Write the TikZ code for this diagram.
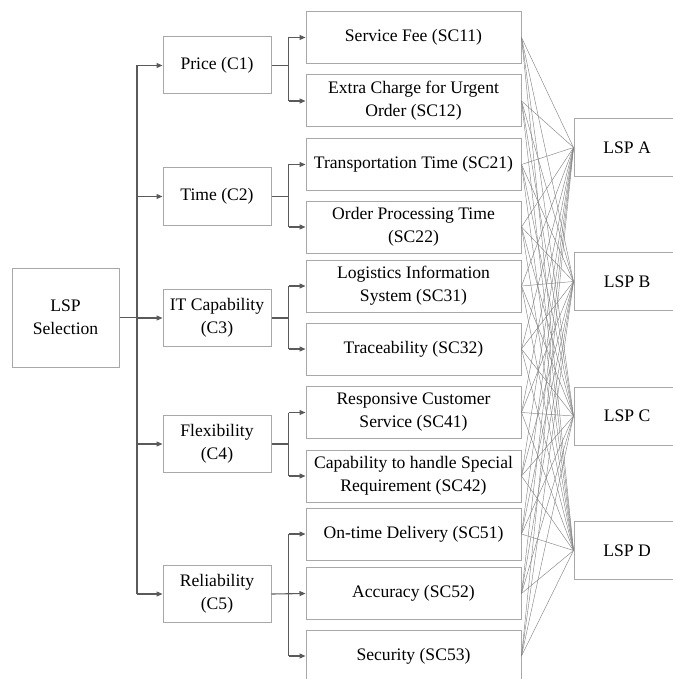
\documentclass[tikz,border=0pt]{standalone}
\usepackage{fontspec}
\setmainfont{LiberationSerif}[Extension=.ttf, UprightFont=*-Regular, BoldFont=*-Bold]
\usetikzlibrary{arrows.meta}
\definecolor{boxc}{HTML}{A8A8A8}
\definecolor{arrc}{HTML}{5A5A5A}
\definecolor{netc}{HTML}{858585}
\begin{document}
\begin{tikzpicture}[x=1pt,y=-1pt,
  box/.style={draw=boxc, line width=1pt, rectangle, align=center, inner sep=2pt,
    font=\rmfamily\fontsize{17.6}{23}\selectfont},
  rootbox/.style={box, minimum width=107pt, minimum height=99pt},
  critbox/.style={box, minimum width=108pt, minimum height=57pt},
  subbox/.style={box, minimum width=215pt, minimum height=52pt},
  altbox/.style={box, minimum width=106pt, minimum height=58pt},
  conn/.style={draw=arrc, line width=1.1pt},
  arr/.style={conn, -{Triangle[length=6pt,width=5pt]}},
  net/.style={draw=netc, line width=0.45pt}]
\useasboundingbox (0,0) rectangle (672,679);

% root
\node[rootbox] (root) at (65.5,317.5) {LSP\\Selection};

% criteria
\node[critbox] (c1) at (217,65.5) {Price (C1)};
\node[critbox] (c2) at (217,196.5) {Time (C2)};
\node[critbox] (c3) at (217,318) {IT Capability\\(C3)};
\node[critbox] (c4) at (217,444) {Flexibility\\(C4)};
\node[critbox] (c5) at (217,594) {Reliability\\(C5)};

% sub-criteria
\node[subbox] (sc11) at (413.5,37.5) {Service Fee (SC11)};
\node[subbox] (sc12) at (413.5,101) {Extra Charge for Urgent\\Order (SC12)};
\node[subbox] (sc21) at (413.5,164.5) {Transportation Time (SC21)};
\node[subbox] (sc22) at (413.5,227) {Order Processing Time\\(SC22)};
\node[subbox] (sc31) at (413.5,286) {Logistics Information\\System (SC31)};
\node[subbox] (sc32) at (413.5,349) {Traceability (SC32)};
\node[subbox] (sc41) at (413.5,412.5) {Responsive Customer\\Service (SC41)};
\node[subbox] (sc42) at (413.5,476) {Capability to handle Special\\Requirement (SC42)};
\node[subbox] (sc51) at (413.5,534) {On-time Delivery (SC51)};
\node[subbox] (sc52) at (413.5,593.5) {Accuracy (SC52)};
\node[subbox] (sc53) at (413.5,656) {Security (SC53)};

% alternatives
\node[altbox] (la) at (627,147.5) {LSP A};
\node[altbox] (lb) at (627,281.5) {LSP B};
\node[altbox] (lc) at (627,416) {LSP C};
\node[altbox] (ld) at (627,550.5) {LSP D};

% trunk
\coordinate (t0) at (137,317.5);
\coordinate (ttop) at (137,65.5);
\coordinate (tbot) at (137,594);
\draw[conn] (root.east) -- (t0);
\draw[conn] (ttop) -- (tbot);
\foreach \c in {c1,c2,c3,c4,c5}
  \draw[arr] (\c.west -| t0) -- (\c.west);

% branches
\foreach \c/\a/\b in {c1/sc11/sc12, c2/sc21/sc22, c3/sc31/sc32, c4/sc41/sc42}{
  \coordinate (\c j) at ([xshift=17pt]\c.east);
  \draw[conn] (\c.east) -- (\c j);
  \draw[conn] (\c j |- \a.west) -- (\c j |- \b.west);
  \draw[arr] (\c j |- \a.west) -- (\a.west);
  \draw[arr] (\c j |- \b.west) -- (\b.west);
}
\coordinate (c5j) at ([xshift=17pt]c5.east);
\draw[conn] (c5j |- sc51.west) -- (c5j |- sc53.west);
\draw[arr] (c5.east) -- (sc52.west);
\draw[arr] (c5j |- sc51.west) -- (sc51.west);
\draw[arr] (c5j |- sc53.west) -- (sc53.west);

% network
\foreach \s in {sc11,sc12,sc21,sc22,sc31,sc32,sc41,sc42,sc51,sc52,sc53}
  \foreach \l in {la,lb,lc,ld}
    \draw[net] (\s.east) -- (\l.west);
\end{tikzpicture}
\end{document}
